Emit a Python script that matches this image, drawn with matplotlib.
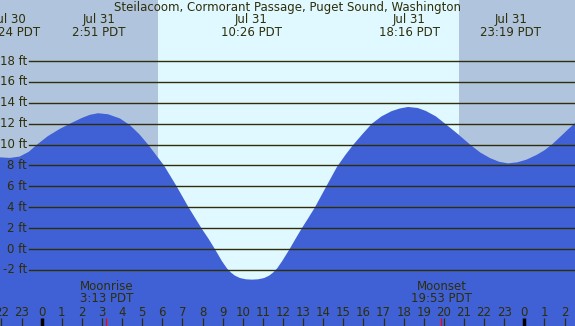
import matplotlib
matplotlib.use("Agg")
import matplotlib.pyplot as plt

# hours since Jul 31 00:00 PDT, tide height in ft
times = [-2.1, -1.58, -1.1, -0.65, -0.23, 0.3, 0.9, 1.51, 2.0, 2.4, 2.8, 3.3, 3.89,
         4.39, 4.85, 5.29, 6.08, 6.71, 7.3, 7.62, 7.94, 8.29, 8.61, 8.96, 9.21,
         9.41, 9.61, 9.86, 10.16, 10.46, 10.76, 11.06, 11.31, 11.51, 11.71, 11.96,
         12.33, 12.63, 12.94, 13.27, 13.59, 14.14, 14.68, 15.1, 15.48, 15.95, 16.42,
         16.9, 17.4, 17.8, 18.22, 18.7, 19.1, 19.6, 20.06, 20.7, 21.3, 21.8, 22.3,
         22.75, 23.19, 23.65, 24.1, 24.6, 25.0, 25.37, 25.9, 26.2, 26.55]
heights = [8.78, 8.72, 8.85, 9.3, 10.0, 10.8, 11.5, 12.1, 12.55, 12.85, 13.0, 12.9, 12.5,
           11.85, 11.0, 10.0, 8.0, 6.0, 4.0, 3.0, 2.0, 1.0, 0.0, -1.15, -1.85,
           -2.25, -2.55, -2.78, -2.9, -2.93, -2.9, -2.78, -2.55, -2.25, -1.85, -1.15,
           0.0, 1.0, 2.0, 3.0, 4.0, 5.95, 7.85, 9.0, 9.95, 11.0, 12.0,
           12.7, 13.2, 13.45, 13.6, 13.5, 13.22, 12.7, 12.0, 11.0, 10.0, 9.25, 8.7,
           8.35, 8.2, 8.3, 8.55, 9.0, 9.45, 10.0, 10.95, 11.5, 12.1]

extreme_t = [-1.6, 2.85, 10.43, 18.27, 23.32]
extreme_day = ["Jul 30", "Jul 31", "Jul 31", "Jul 31", "Jul 31"]
extreme_time = ["22:24 PDT", "2:51 PDT", "10:26 PDT", "18:16 PDT", "23:19 PDT"]

sunrise = 5.78
sunset = 20.75
moonrise = 3.22
moonset = 19.88

levels = [-2, 0, 2, 4, 6, 8, 10, 12, 14, 16, 18]
hours = list(range(-2, 27))

title = "Steilacoom, Cormorant Passage, Puget Sound, Washington"

night = "#b0c4de"
day = "#e0f8ff"
water = "#4060d6"
ink = "#2e2e08"

x0, x1 = -2.074, 26.52
y0, y1 = -7.37, 23.84

fig = plt.figure(figsize=(5.75, 3.26), dpi=100)
ax = fig.add_axes([0, 0, 1, 1])
ax.set_xlim(x0, x1)
ax.set_ylim(y0, y1)
ax.axis("off")

ax.axvspan(x0, x1, color=day, zorder=0)
ax.axvspan(x0, sunrise, color=night, lw=0, zorder=0)
ax.axvspan(sunset, x1, color=night, lw=0, zorder=0)

ax.fill_between(times, heights, y0, color=water, lw=0, zorder=1)

fs = 8.5
for lv in levels:
    ax.axhline(lv, xmin=29 / 575, xmax=1, color=ink, lw=1.0, zorder=2)
    ax.text(27 / 575, lv, f"{lv} ft", transform=ax.get_yaxis_transform(),
            ha="right", va="center", fontsize=fs, color=ink)

tr = ax.get_xaxis_transform()
ax.text(0.5, 1 - 7 / 326, title, transform=ax.transAxes, ha="center", va="center",
        fontsize=fs, color=ink)
for t, d, s in zip(extreme_t, extreme_day, extreme_time):
    ax.text(t, 1 - 19 / 326, d, transform=tr, ha="center", va="center", fontsize=fs, color=ink)
    ax.text(t, 1 - 32 / 326, s, transform=tr, ha="center", va="center", fontsize=fs, color=ink)

ax.text(moonrise, 1 - 287 / 326, "Moonrise", transform=tr, ha="center", va="center", fontsize=fs, color=ink)
ax.text(moonrise, 1 - 299 / 326, "3:13 PDT", transform=tr, ha="center", va="center", fontsize=fs, color=ink)
ax.text(moonset, 1 - 287 / 326, "Moonset", transform=tr, ha="center", va="center", fontsize=fs, color=ink)
ax.text(moonset, 1 - 299 / 326, "19:53 PDT", transform=tr, ha="center", va="center", fontsize=fs, color=ink)

for h in hours:
    ax.text(h, 1 - 312 / 326, str(h % 24), transform=tr, ha="center", va="center", fontsize=fs, color=ink)
    if h % 24 == 0:
        ax.vlines(h, 0, 8 / 326, transform=tr, color="black", lw=2.5, zorder=3)
    else:
        ax.vlines(h, 0, 8 / 326, transform=tr, color=ink, lw=0.9, zorder=3)
ax.vlines([moonrise, moonset], 0, 8 / 326, transform=tr, color="red", lw=0.9, zorder=3)

fig.savefig("out.png", dpi=100)
